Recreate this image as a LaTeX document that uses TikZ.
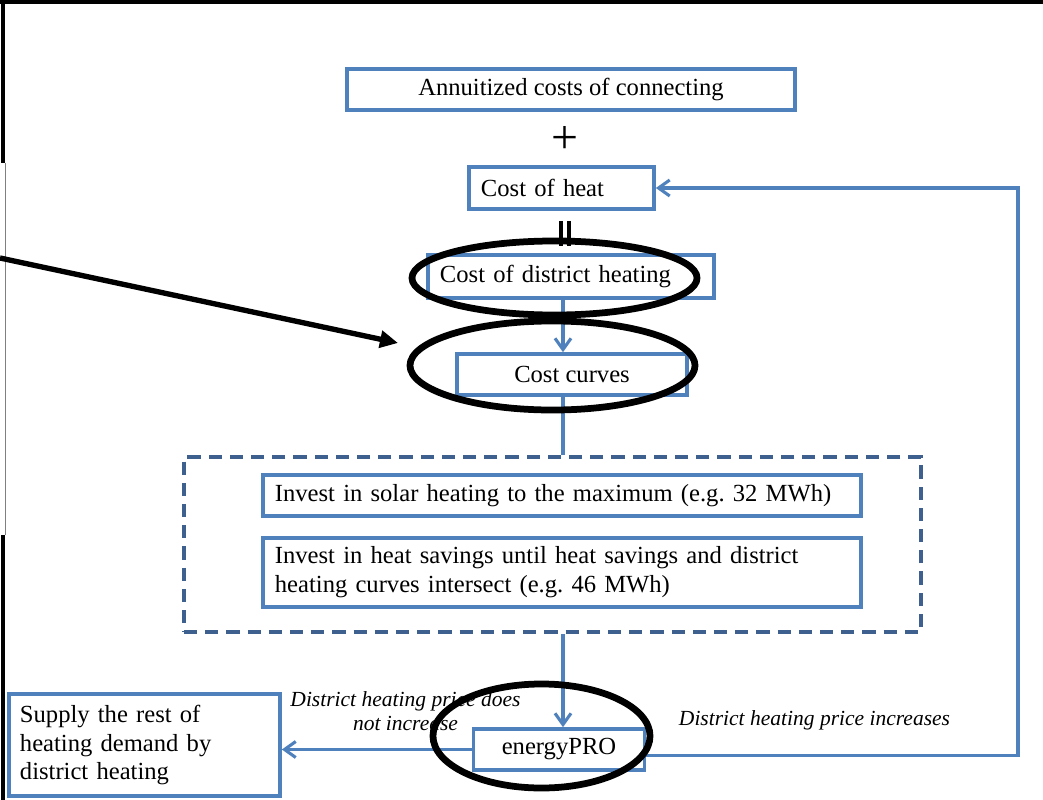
\documentclass[tikz,border=0pt]{standalone}
\usepackage{fontspec}
\setmainfont{Liberation Serif}
\usetikzlibrary{arrows.meta,shapes.geometric}
\definecolor{boxblue}{RGB}{79,129,189}
\definecolor{dashblue}{RGB}{62,96,143}
\begin{document}
\frenchspacing
\begin{tikzpicture}[x=0.025cm, y=-0.025cm,
	>={Straight Barb[length=2.8mm,width=4mm]},
	bbox/.style={draw=boxblue, line width=2.6pt, inner xsep=0.3cm, inner ysep=0pt, font=\fontsize{17.5}{20.6}\selectfont},
	lbox/.style={bbox, align=left, text width=#1},
	flow/.style={draw=boxblue, line width=2.2pt},
	ring/.style={ellipse, draw=black, line width=4.8pt},
	note/.style={font=\fontsize{15.3}{17.5}\selectfont\itshape, align=center}]
	\useasboundingbox (0,0) rectangle (1043,800);
	
	%frame
	\draw[line width=2.2pt] (0,2) -- (1043,2);
	\draw[line width=2.2pt] (3,2) -- (3,163);
	\draw[gray, line width=0.6pt] (5,163) -- (5,535);
	\draw[line width=2.2pt] (3,535) -- (3,800);
	
	%cost chain
	\node at (571,89.5) [bbox, minimum width=11.2cm, minimum height=1.025cm] (annuit) {Annuitized costs of connecting};
	\node at (565,140) [font=\fontsize{34}{34}\selectfont] (plus) {+};
	\node at (561.5,188) [lbox=4.025cm, minimum height=1.05cm] (heatcost) {Cost of heat};
	\draw[line width=2.2pt] (561,221) -- (561,246);
	\draw[line width=2.2pt] (569,221) -- (569,246);
	\node at (571,276.5) [lbox=6.55cm, minimum height=1.075cm] (dhcost) {Cost of district heating};
	\node at (572,374.5) [bbox, minimum width=5.75cm, minimum height=1.025cm] (curves) {Cost curves};
	
	%investments
	\node at (552.5,544.5) [draw=dashblue, line width=2.6pt, dash pattern=on 0.33cm off 0.2cm, minimum width=18.425cm, minimum height=4.375cm] (invest) {};
	\node at (562,495.5) [lbox=14.35cm, minimum height=1.025cm] (solar) {Invest in solar heating to the maximum (e.g. 32 MWh)};
	\node at (562,572.5) [lbox=14.35cm, minimum height=1.725cm] (savings) {Invest in heat savings until heat savings and district\\heating curves intersect (e.g. 46 MWh)};
	
	%simulation
	\node at (559,749.5) [bbox, minimum width=4.275cm, minimum height=1.025cm] (epro) {energyPRO};
	\node at (144.5,745) [lbox=6.225cm, minimum height=2.55cm, inner xsep=0.275cm] (supply) {Supply the rest of\\heating demand by\\district heating};
	\node at (405.5,711) [note] (nodrop) {District heating price does\\not increase};
	\node at (814.5,720) [note] (rise) {District heating price increases};
	
	%connectors
	\coordinate (spine) at (563,0);
	\coordinate (loop) at (1018,470);
	\draw[flow, ->] (dhcost.south -| spine) -- (curves.north -| spine);
	\draw[flow] (curves.south -| spine) -- (invest.north -| spine);
	\draw[flow, ->] (invest.south -| spine) -- (epro.north -| spine);
	\draw[flow, ->] (epro.west) -- (epro.west -| supply.east);
	\draw[flow, ->] ([yshift=-0.14cm]epro.east) -| (loop) |- (heatcost.east);
	
	%pointer
	\coordinate (pointer) at (0,258);
	\coordinate (aim) at (398,343);
	\draw[line width=3.8pt, -{Triangle[length=4.5mm,width=4.2mm]}] (pointer) -- (aim);
	
	%rings
	\node at (554.5,278) [ring, minimum width=7.125cm, minimum height=1.85cm] (ring1) {};
	\node at (552.5,365.5) [ring, minimum width=7.125cm, minimum height=2.225cm] (ring2) {};
	\node at (541.5,736) [ring, minimum width=5.425cm, minimum height=2.6cm] (ring3) {};
\end{tikzpicture}
\end{document}
